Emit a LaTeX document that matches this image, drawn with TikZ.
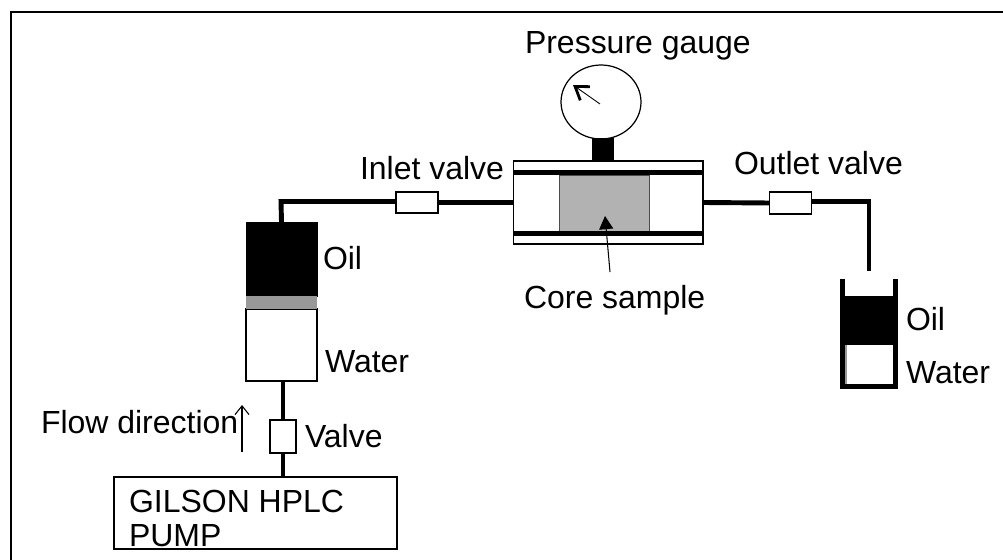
\documentclass[tikz,border=0pt]{standalone}
\usepackage{fontspec}
\setmainfont{Liberation Sans}
\usepackage{xcolor}
\usetikzlibrary{arrows.meta,shapes.geometric}
\tikzset{
    tube/.style={line width=2.8pt},
    part/.style={draw,fill=white,line width=0.7pt,inner sep=0pt,outer sep=0pt},
    lbl/.style={anchor=base west,inner sep=0pt,outer sep=0pt,font=\fontsize{18.2}{18.2}\selectfont},
}

\begin{document}
\begin{tikzpicture}[x=0.02cm,y=-0.02cm]
    \useasboundingbox (0,0) rectangle (1003,560);
    \coordinate (framebl) at (11,560);
    \coordinate (frametl) at (11,12);
    \coordinate (frametr) at (1003,12);
    \draw [line width=1.1pt] (framebl) -- (frametl) -- (frametr);

    % gauge and core holder
    \node [part,minimum width=3.79cm,minimum height=1.66cm] (cell) at (608.2,202.5) {};
    \node [part,ellipse,minimum width=1.6cm,minimum height=1.48cm] (gauge) at (601,102) {};
    \node [draw,fill=black,inner sep=0pt,outer sep=0pt,minimum width=0.42cm,minimum height=0.46cm] (stem) at (603,149.5) {};
    \node [draw=black!70,fill=black!30,inner sep=0pt,outer sep=0pt,minimum width=1.8cm,minimum height=1.12cm] (core) at (604,203.5) {};
    \coordinate (barlefttop) at (513.5,172.5);
    \coordinate (barrighttop) at (703,172.5);
    \coordinate (barleftlow) at (513.5,233.5);
    \coordinate (barrightlow) at (703,233.5);
    \draw [tube] (barlefttop) -- (barrighttop);
    \draw [tube] (barleftlow) -- (barrightlow);
    \coordinate (needletail) at (600,104);
    \coordinate (needletip) at (573,85);
    \draw [-{Straight Barb[length=7pt,width=9.5pt,line width=1.6pt]},line width=0.5pt] (needletail) -- (needletip);
    \coordinate (coretail) at (610,272);
    \coordinate (coretip) at (605,216);
    \draw [-{Triangle[length=7.5pt,width=8pt]},line width=0.6pt] (coretail) -- (coretip);

    % inlet side
    \node [part,minimum width=0.84cm,minimum height=0.42cm] (inletvalve) at (417,202.5) {};
    \node [draw,fill=black,inner sep=0pt,outer sep=0pt,minimum width=1.42cm,minimum height=1.48cm] (oil) at (281.5,259) {};
    \node [part,minimum width=1.42cm,minimum height=1.44cm] (water) at (281.5,345) {};
    \node [fill=black!40,inner sep=0pt,outer sep=0pt,minimum width=1.42cm,minimum height=0.26cm] (piston) at (281.5,302.5) {};
    \node [part,minimum width=0.52cm,minimum height=0.66cm] (pumpvalve) at (283,436.5) {};
    \node [part,minimum width=5.66cm,minimum height=1.44cm] (pump) at (255.5,513) {};
    \coordinate (inletbend) at (281,201.5);
    \draw [tube] (oil.north) -- (inletbend) -- (inletbend -| inletvalve.west);
    \draw [tube] (inletvalve.east) -- (cell.west);
    \draw [tube] (water.south -| pumpvalve.north) -- (pumpvalve.north);
    \draw [tube] (pumpvalve.south) -- (pumpvalve.south |- pump.north);
    \coordinate (flowtail) at (242,452);
    \coordinate (flowtip) at (242,405);
    \draw [-{Straight Barb[length=5pt,width=8pt]},line width=0.6pt] (flowtail) -- (flowtip);

    % outlet side
    \node [part,minimum width=0.84cm,minimum height=0.44cm] (outletvalve) at (790.5,203) {};
    \coordinate (outletbend) at (869,201.7);
    \coordinate (outletend) at (869,271);
    \draw [tube] (cell.east) -- (outletvalve.west);
    \draw [tube] (outletbend -| outletvalve.east) -- (outletbend) -- (outletend);
    \node [fill=black,inner sep=0pt,outer sep=0pt,minimum width=0.98cm,minimum height=0.98cm] (beakeroil) at (869,320.5) {};
    \coordinate (wallleft) at (842.5,279);
    \coordinate (cornerleft) at (842.5,386.5);
    \coordinate (cornerright) at (895.5,386.5);
    \coordinate (wallright) at (895.5,279);
    \draw [tube] (wallleft) -- (cornerleft) -- (cornerright) -- (wallright);
    \coordinate (edgetop) at (846,345);
    \coordinate (edgelow) at (846,384);
    \draw [black!40,line width=0.9pt] (edgetop) -- (edgelow);

    \node [lbl] (gaugelabel) at (525,53.5) {Pressure gauge};
    \node [lbl] (inletlabel) at (360,180) {Inlet valve};
    \node [lbl] (outletlabel) at (734,175) {Outlet valve};
    \node [lbl] (corelabel) at (524,308) {Core sample};
    \node [lbl] (oillabel) at (323,270) {Oil};
    \node [lbl] (waterlabel) at (325,372.5) {Water};
    \node [lbl] (beakeroillabel) at (906,330) {Oil};
    \node [lbl] (beakerwaterlabel) at (906,383) {Water};
    \node [lbl] (flowlabel) at (41,433) {Flow direction};
    \node [lbl] (valvelabel) at (305,447) {Valve};
    \node [lbl] (pumplabela) at (129,512) {GILSON HPLC};
    \node [lbl] (pumplabelb) at (129,546) {PUMP};
\end{tikzpicture}
\end{document}
